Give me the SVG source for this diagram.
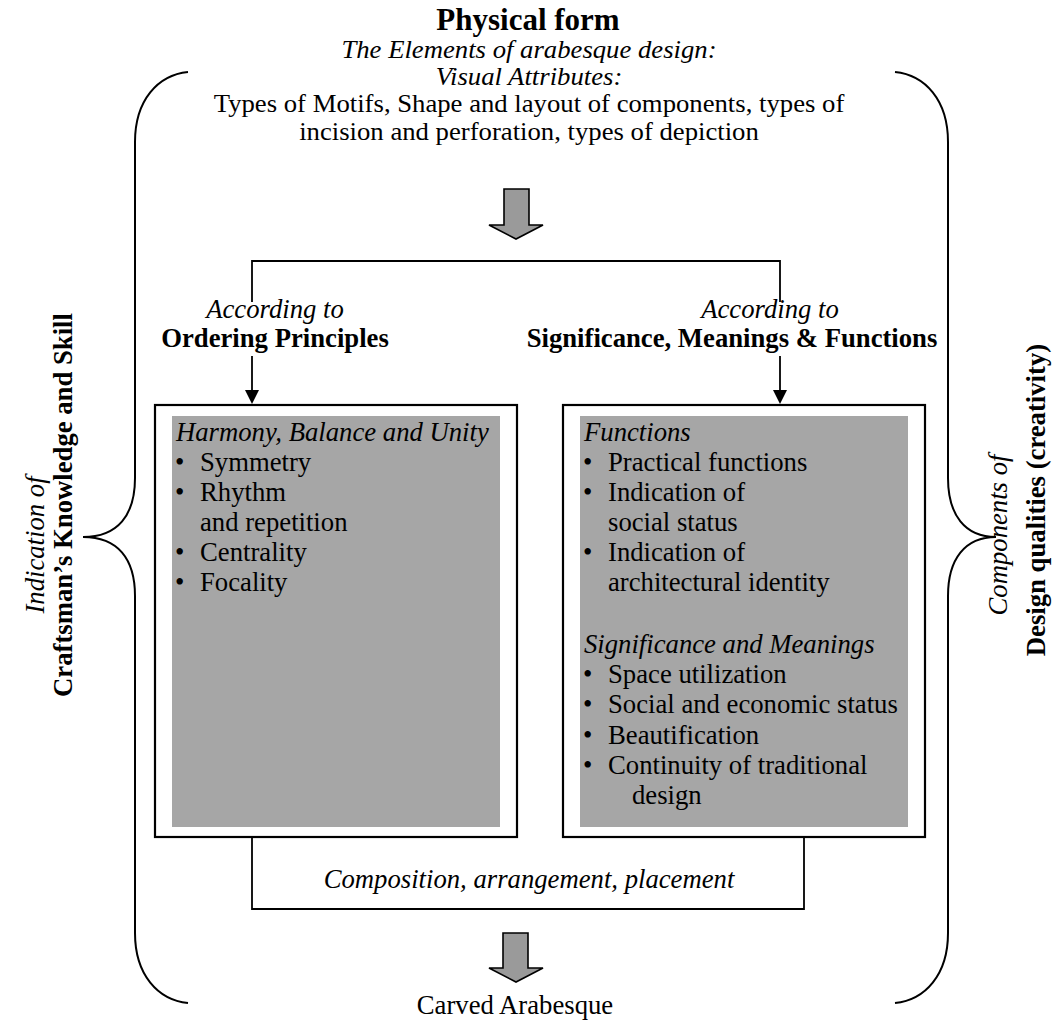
<svg xmlns="http://www.w3.org/2000/svg" width="1058" height="1021" viewBox="0 0 1058 1021">
<style>
.t{font-family:"Liberation Serif","Times New Roman",serif;font-size:26.7px;fill:#000}
.h{font-size:25px}
.b{font-weight:bold}
.i{font-style:italic}
.m{text-anchor:middle}
.ln{fill:none;stroke:#000;stroke-width:1.8}
.br{fill:none;stroke:#000;stroke-width:2}
.outer{fill:#fff;stroke:#000;stroke-width:2.2}
.inner{fill:#a6a6a6;stroke:none}
.blk{fill:#9a9a9a;stroke:#000;stroke-width:1.6;stroke-linejoin:miter}
.ah{fill:#000}
</style>
<rect width="1058" height="1021" fill="#fff"/>

<g id="left-brace">
<path class="br" d="M188,72 C158,75 135,100 135,142 L135,478 C135,515 118,537 83,537 C118,537 135,559 135,596 L135,933 C135,975 158,1000 188,1003"/>
<text class="t i m" transform="translate(44,545) rotate(-90)">Indication of</text>
<text class="t b m" transform="translate(72,505) rotate(-90)">Craftsman’s Knowledge and Skill</text>
</g>

<g id="right-brace">
<path class="br" d="M895,72 C925,75 948,100 948,142 L948,478 C948,515 965,537 996,537 C965,537 948,559 948,596 L948,933 C948,975 925,1000 895,1003"/>
<text class="t i m" transform="translate(1007,535) rotate(-90)">Components of</text>
<text class="t b m" transform="translate(1045,500) rotate(-90)">Design qualities (creativity)</text>
</g>

<g id="physical-form">
<text class="t b m" x="528" y="30" style="font-size:31px">Physical form</text>
<g transform="translate(529,0) scale(1.068,1)">
<text class="t h i m" x="0" y="58">The Elements of arabesque design:</text>
<text class="t h i m" x="0" y="85">Visual Attributes:</text>
<text class="t h m" x="0" y="112">Types of Motifs, Shape and layout of components, types of</text>
<text class="t h m" x="0" y="140">incision and perforation, types of depiction</text>
</g>
</g>

<g id="arrow-top">
<polygon class="blk" points="504,189 529,189 529,225 543,225 516,239 489,225 504,225"/>
</g>

<g id="connectors">
<path class="ln" d="M252,302 V261 H780 V302"/>
<line class="ln" x1="252" y1="356" x2="252" y2="392"/>
<polygon class="ah" points="245,390 259,390 252,404"/>
<line class="ln" x1="780" y1="356" x2="780" y2="392"/>
<polygon class="ah" points="773,390 787,390 780,404"/>
<path class="ln" d="M252,837 V909 H804 V837"/>
</g>

<g id="label-ordering">
<text class="t i m" x="275" y="318">According to</text>
<text class="t b m" x="275" y="347">Ordering Principles</text>
</g>

<g id="label-significance">
<text class="t i m" x="770" y="318">According to</text>
<text class="t b m" x="732" y="347">Significance, Meanings &amp; Functions</text>
</g>

<g id="box-ordering">
<rect class="outer" x="155" y="405" width="362" height="432"/>
<rect class="inner" x="172" y="416" width="328" height="411"/>
<text class="t i" x="176" y="441">Harmony, Balance and Unity</text>
<text class="t" x="175" y="471">•</text><text class="t" x="200" y="471">Symmetry</text>
<text class="t" x="175" y="501">•</text><text class="t" x="200" y="501">Rhythm</text>
<text class="t" x="200" y="531">and repetition</text>
<text class="t" x="175" y="561">•</text><text class="t" x="200" y="561">Centrality</text>
<text class="t" x="175" y="591">•</text><text class="t" x="200" y="591">Focality</text>
</g>

<g id="box-significance">
<rect class="outer" x="563" y="405" width="362" height="432"/>
<rect class="inner" x="580" y="416" width="328" height="411"/>
<text class="t i" x="584" y="441">Functions</text>
<text class="t" x="583" y="471">•</text><text class="t" x="608" y="471">Practical functions</text>
<text class="t" x="583" y="501">•</text><text class="t" x="608" y="501">Indication of</text>
<text class="t" x="608" y="531">social status</text>
<text class="t" x="583" y="561">•</text><text class="t" x="608" y="561">Indication of</text>
<text class="t" x="608" y="591">architectural identity</text>
<text class="t i" x="584" y="653">Significance and Meanings</text>
<text class="t" x="583" y="683">•</text><text class="t" x="608" y="683">Space utilization</text>
<text class="t" x="583" y="713">•</text><text class="t" x="608" y="713">Social and economic status</text>
<text class="t" x="583" y="744">•</text><text class="t" x="608" y="744">Beautification</text>
<text class="t" x="583" y="774">•</text><text class="t" x="608" y="774">Continuity of traditional</text>
<text class="t" x="632" y="804">design</text>
</g>

<g id="composition">
<text class="t i m" x="529" y="888">Composition, arrangement, placement</text>
</g>

<g id="arrow-bottom">
<polygon class="blk" points="503,933 528,933 528,968 543,968 516,982 489,968 503,968"/>
</g>

<g id="carved-arabesque">
<text class="t m" x="515" y="1014">Carved Arabesque</text>
</g>
</svg>
